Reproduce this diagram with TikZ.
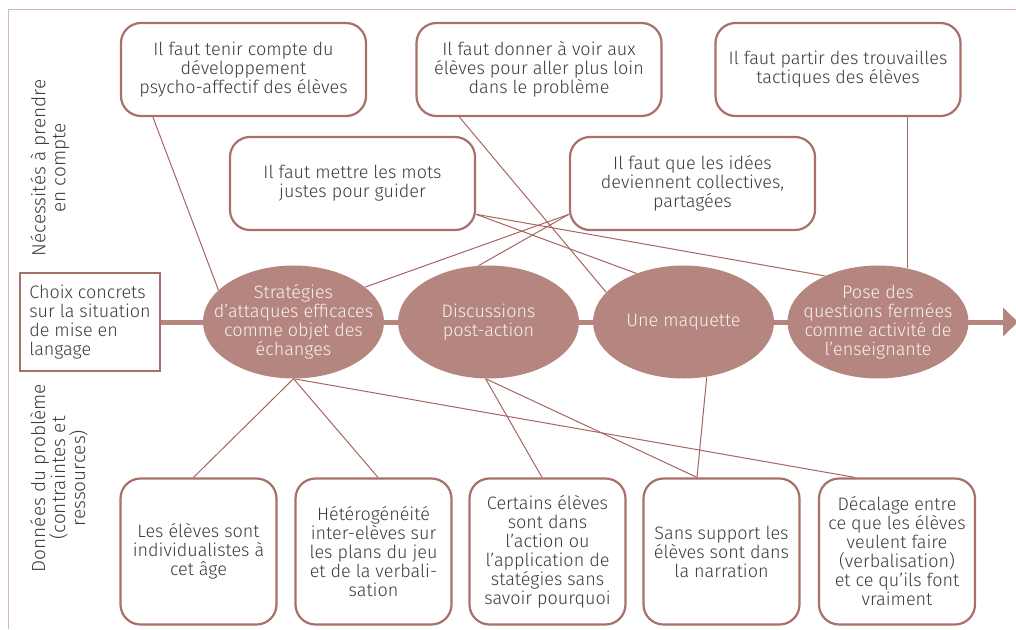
\documentclass[tikz,border=0pt]{standalone}
\usepackage{fontspec}
\setmainfont{Fira Sans}[UprightFont={* Light}]
\usetikzlibrary{shapes.geometric,arrows.meta,backgrounds}
\definecolor{boxline}{HTML}{A8706A}
\definecolor{ellfill}{HTML}{B5867F}
\definecolor{connc}{HTML}{A8645F}
\definecolor{frameline}{HTML}{DAB4AF}
\definecolor{txt}{HTML}{3C3C3C}
\definecolor{elltxt}{HTML}{F8F0EF}
\tikzset{
  every node/.style={font=\fontsize{18}{19}\selectfont},
  topbox/.style={draw=boxline, line width=2.2pt, rounded corners=20pt, fill=white,
    minimum width=245pt, minimum height=93pt, align=center, text=txt, inner sep=0pt},
  botbox/.style={topbox, minimum width=156pt, minimum height=146pt},
  choixbox/.style={draw=boxline, line width=2.2pt, fill=white, minimum width=140pt,
    minimum height=98pt, align=left, text=txt, inner sep=0pt},
  ell/.style={ellipse, fill=ellfill, minimum width=181pt, minimum height=113pt,
    inner sep=0pt},
  elltext/.style={align=center, text=elltxt, inner sep=0pt},
  sidelabel/.style={rotate=90, align=center, text=txt, font=\fontsize{19}{20}\selectfont},
  link/.style={draw=connc, line width=1pt},
  arrowline/.style={draw=ellfill, line width=5pt, -{Triangle[length=15pt,width=28pt]}},
  framestyle/.style={draw=frameline, line width=1.4pt}
}
\begin{document}
\begin{tikzpicture}[x=1pt,y=-1pt]
\useasboundingbox (0,0) rectangle (1016,629);
\draw[framestyle] (8.5,629) -- (8.5,9.5) -- (1016,9.5);

% top boxes
\node[topbox] (A) at (243.5,69.5) {Il faut tenir compte du\\développement\\psycho-affectif des élèves};
\node[topbox] (B) at (539,69.5) {Il faut donner à voir aux\\élèves pour aller plus loin\\dans le problème};
\node[topbox] (C) at (838,69.5) {Il faut partir des trouvailles\\tactiques des élèves};
\node[topbox] (D) at (352.5,183.5) {Il faut mettre les mots\\justes pour guider};
\node[topbox] (E) at (692.5,183.5) {Il faut que les idées\\deviennent collectives,\\partagées};

% middle
\node[choixbox] (choix) at (90,322) {Choix concrets\\sur la situation\\de mise en\\langage};
\node[ell, label={[elltext]center:{Stratégies\\d’attaques efficaces\\comme objet des\\échanges}}] (E1) at (293.5,322) {};
\node[ell, label={[elltext]center:{Discussions\\post-action}}] (E2) at (488.5,322) {};
\node[ell, label={[elltext]center:{Une maquette}}] (E3) at (683.5,322) {};
\node[ell, label={[elltext]center:{Pose des\\questions fermées\\comme activité de\\l’enseignante}}] (E4) at (878,322) {};
\coordinate (arrowend) at (1018,322);

% bottom boxes
\node[botbox] (F1) at (198.5,551.5) {Les élèves sont\\individualistes à\\cet âge};
\node[botbox] (F2) at (373.5,551.5) {Hétérogénéité\\inter-elèves sur\\les plans du jeu\\et de la verbali-\\sation};
\node[botbox] (F3) at (547.5,551.5) {Certains élèves\\sont dans\\l’action ou\\l’application de\\statégies sans\\savoir pourquoi};
\node[botbox] (F4) at (721.5,551.5) {Sans support les\\élèves sont dans\\la narration};
\node[botbox] (F5) at (897,551.5) {Décalage entre\\ce que les élèves\\veulent faire\\(verbalisation)\\et ce qu’ils font\\vraiment};

% side labels
\node[sidelabel] (L1) at (50,168) {Nécessités à prendre\\en compte};
\node[sidelabel] (L2) at (59,478) {Données du problème\\(contraintes et\\ressources)};

\begin{scope}[on background layer]
\draw[arrowline] (choix.east) -- (arrowend);
\draw[link] ([xshift=33pt]A.south west) -- (E1.157);
\draw[link] ([xshift=44pt]B.south west) -- (E3.159);
\draw[link] (E4.61 |- C.south) -- (E4.61);
\draw[link] (D.-14) -- (E3.134);
\draw[link] (D.-14) -- (E4.139);
\draw[link] (E.194) -- (E1.26);
\draw[link] (E.194) -- (E2.100);
\draw[link] (E1.south) -- ([xshift=-5pt]F1.north);
\draw[link] (E1.south) -- ([xshift=4.5pt]F2.north);
\draw[link] (E1.south) -- ([xshift=-42pt]F5.north);
\draw[link] (E2.-93) -- ([xshift=-5.5pt]F3.north);
\draw[link] (E2.-93) -- ([xshift=-24.5pt]F4.north);
\draw[link] (E3.-67) -- ([xshift=-24.5pt]F4.north);
\end{scope}
\end{tikzpicture}
\end{document}
